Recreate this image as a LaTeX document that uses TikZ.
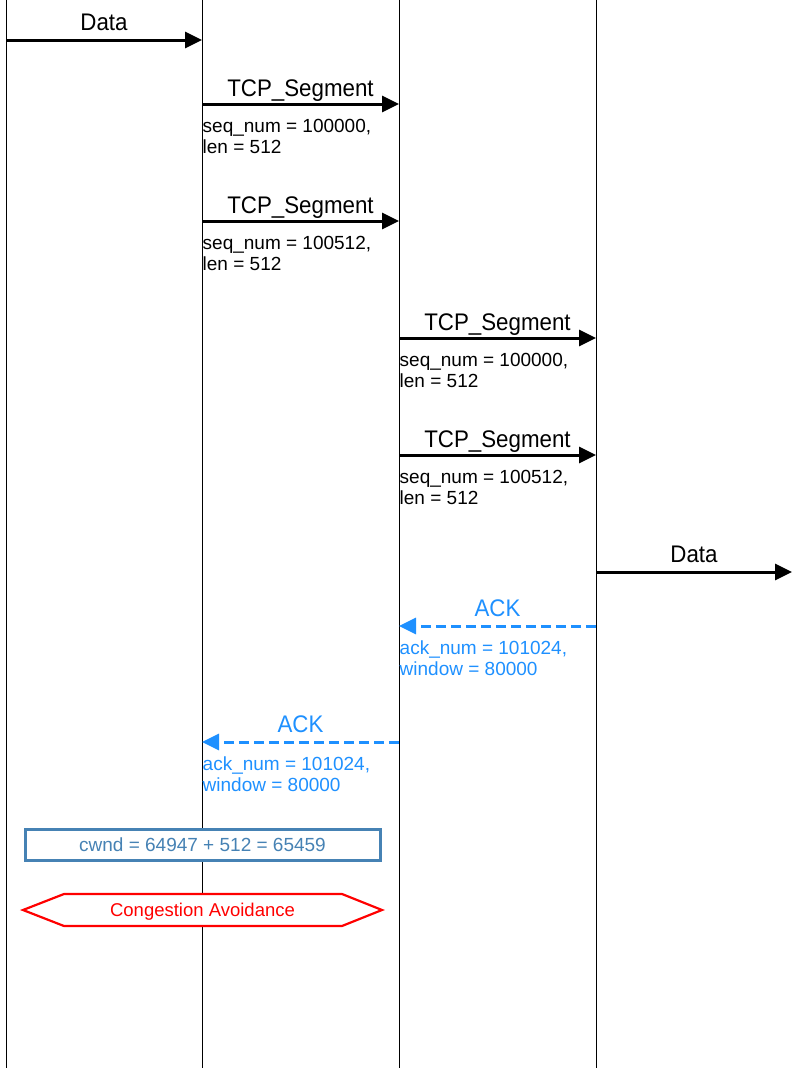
\documentclass[tikz,border=0pt]{standalone}
\usepackage{fontspec}
\setmainfont{Liberation Sans}
\newfontfamily\bigf[FakeStretch=0.93]{Liberation Sans}
\usetikzlibrary{arrows.meta,calc}
\definecolor{ackblue}{HTML}{1E90FF}
\definecolor{cwblue}{HTML}{4682B4}
\begin{document}
\begin{tikzpicture}[x=1pt,y=-1pt,
  life/.style={line width=1pt,black},
  msg/.style={line width=3pt,-{Triangle[length=17pt,width=16pt]}},
  ackmsg/.style={msg,ackblue,dash pattern=on 10pt off 5pt},
  biglbl/.style={anchor=base,inner sep=0pt,font=\bigf\fontsize{24}{28}\selectfont},
  sublbl/.style={anchor=base west,inner sep=0pt,align=left,font=\fontsize{19}{21}\selectfont},
  cwbox/.style={draw=cwblue,line width=3pt,fill=white,text=cwblue,minimum width=355pt,minimum height=31pt,inner sep=0pt,font=\fontsize{19}{21}\selectfont}
]
\useasboundingbox (0,0) rectangle (792,1068);
% lifelines
\foreach \n/\x in {A/6,B/202,C/399,D/596}{
  \coordinate (\n top) at (\x,0);
  \coordinate (\n bot) at (\x,1068);
  \draw[life] (\n top) -- (\n bot);
}
% message endpoints
\coordinate (m1s) at (6,40);    \coordinate (m1e) at (202,40);
\coordinate (m2s) at (202,104); \coordinate (m2e) at (399,104);
\coordinate (m3s) at (202,221); \coordinate (m3e) at (399,221);
\coordinate (m4s) at (399,338); \coordinate (m4e) at (596,338);
\coordinate (m5s) at (399,455); \coordinate (m5e) at (596,455);
\coordinate (m6s) at (596,572); \coordinate (m6e) at (792,572);
\coordinate (m7s) at (596,626); \coordinate (m7e) at (399,626);
\coordinate (m8s) at (399,742); \coordinate (m8e) at (202,742);

% boxes (drawn over the lifelines)
\node[cwbox] (cw) at (202.5,845) {cwnd = 64947 + 512 = 65459};
\coordinate (h1) at (23,910);  \coordinate (h2) at (64,894);
\coordinate (h3) at (342,894); \coordinate (h4) at (382,910);
\coordinate (h5) at (342,926); \coordinate (h6) at (64,926);
\draw[draw=red,line width=2.2pt,fill=white] (h1) -- (h2) -- (h3) -- (h4) -- (h5) -- (h6) -- cycle;
\node[text=red,inner sep=0pt,anchor=base,font=\fontsize{18.5}{21}\selectfont] (ca) at (202.5,916) {Congestion Avoidance};

% messages
\draw[msg] (m1s) -- (m1e);
\node[biglbl] (l1) at ($(m1s)!0.5!(m1e)+(0,-10)$) {Data};

\draw[msg] (m2s) -- (m2e);
\node[biglbl] (l2) at ($(m2s)!0.5!(m2e)+(0,-8)$) {TCP\_Segment};
\node[sublbl] (s2) at (202.5,153) {seq\_num = 100000,\\len = 512};

\draw[msg] (m3s) -- (m3e);
\node[biglbl] (l3) at ($(m3s)!0.5!(m3e)+(0,-8)$) {TCP\_Segment};
\node[sublbl] (s3) at (202.5,270) {seq\_num = 100512,\\len = 512};

\draw[msg] (m4s) -- (m4e);
\node[biglbl] (l4) at ($(m4s)!0.5!(m4e)+(0,-8)$) {TCP\_Segment};
\node[sublbl] (s4) at (399.5,387) {seq\_num = 100000,\\len = 512};

\draw[msg] (m5s) -- (m5e);
\node[biglbl] (l5) at ($(m5s)!0.5!(m5e)+(0,-8)$) {TCP\_Segment};
\node[sublbl] (s5) at (399.5,504) {seq\_num = 100512,\\len = 512};

\draw[msg] (m6s) -- (m6e);
\node[biglbl] (l6) at ($(m6s)!0.5!(m6e)+(0,-10)$) {Data};

\draw[ackmsg] (m7s) -- (m7e);
\node[biglbl,text=ackblue] (l7) at ($(m7s)!0.5!(m7e)+(0,-10)$) {ACK};
\node[sublbl,text=ackblue] (s7) at (399.5,675) {ack\_num = 101024,\\window = 80000};

\draw[ackmsg] (m8s) -- (m8e);
\node[biglbl,text=ackblue] (l8) at ($(m8s)!0.5!(m8e)+(0,-10)$) {ACK};
\node[sublbl,text=ackblue] (s8) at (202.5,791) {ack\_num = 101024,\\window = 80000};
\end{tikzpicture}
\end{document}
